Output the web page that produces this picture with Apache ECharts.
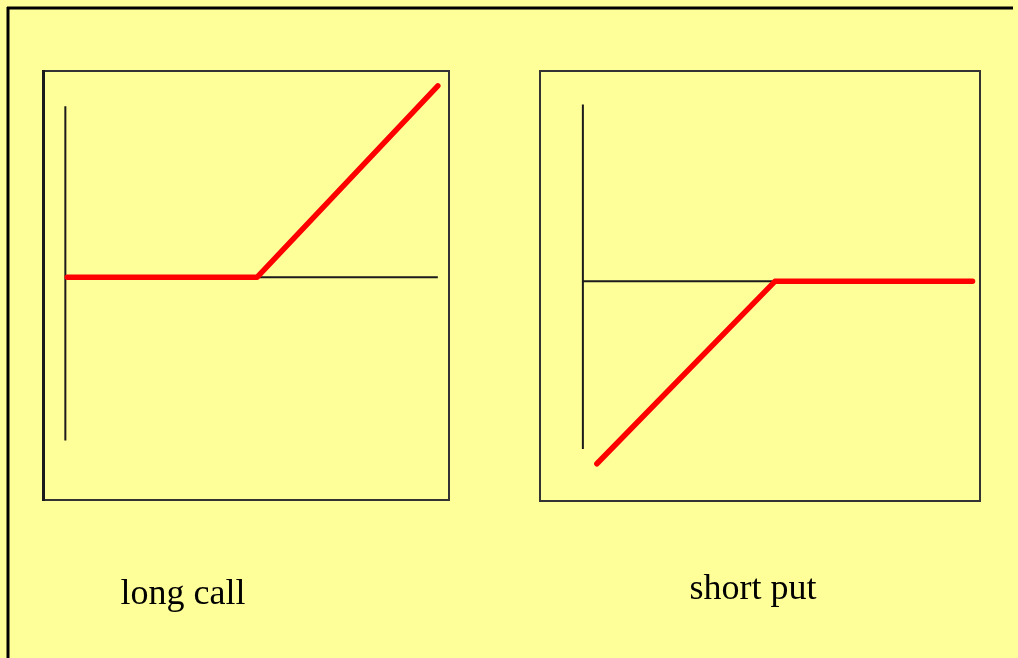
<!DOCTYPE html>
<html>
<head>
<meta charset="utf-8">
<script src="https://cdn.jsdelivr.net/npm/echarts@6/dist/echarts.min.js"></script>
<style>
  html, body { margin: 0; padding: 0; background: #ffff99; }
  #chart { width: 1018px; height: 658px; }
</style>
</head>
<body>
<div id="chart"></div>
<script>
// payoff diagrams
var chartTitles = ['long call', 'short put'];

var longCallPrice = [1, 103, 200];
var longCallPayoff = [0, 0, 103];
var shortPutPrice = [7.5, 103, 209];
var shortPutPayoff = [-98, 0, 0];

// drawn axes inside each box
var longCallAxisV = [[0, 92], [0, -88]];
var longCallAxisH = [[0, 0], [200, 0]];
var shortPutAxisV = [[0, 95], [0, -90]];
var shortPutAxisH = [[0, 0], [103, 0]];

function zip(xs, ys) {
    var out = [];
    for (var i = 0; i < xs.length; i++) {
        out.push([xs[i], ys[i]]);
    }
    return out;
}

function axisLine(data, idx) {
    return {
        type: 'line', data: data, xAxisIndex: idx, yAxisIndex: idx,
        showSymbol: false, silent: true,
        lineStyle: { color: '#1a1a1a', width: 2 }
    };
}

function payoffLine(data, idx) {
    return {
        type: 'line', data: data, xAxisIndex: idx, yAxisIndex: idx,
        showSymbol: false, silent: true, z: 3,
        lineStyle: { color: '#ff0000', width: 5.5, cap: 'round', join: 'round' }
    };
}

var myChart = echarts.init(document.getElementById('chart'));

var option = {
    backgroundColor: '#ffff99',
    animation: false,
    grid: [
        { left: 43, top: 71, width: 406, height: 429, show: true, borderColor: '#333', borderWidth: 2, backgroundColor: 'transparent' },
        { left: 540, top: 71, width: 440, height: 430, show: true, borderColor: '#333', borderWidth: 2, backgroundColor: 'transparent' }
    ],
    xAxis: [
        { type: 'value', gridIndex: 0, min: -12, max: 206, show: false },
        { type: 'value', gridIndex: 1, min: -23, max: 213, show: false }
    ],
    yAxis: [
        { type: 'value', gridIndex: 0, min: -120, max: 111, show: false },
        { type: 'value', gridIndex: 1, min: -118, max: 113, show: false }
    ],
    series: [
        axisLine(longCallAxisV, 0),
        axisLine(longCallAxisH, 0),
        payoffLine(zip(longCallPrice, longCallPayoff), 0),
        axisLine(shortPutAxisV, 1),
        axisLine(shortPutAxisH, 1),
        payoffLine(zip(shortPutPrice, shortPutPayoff), 1)
    ],
    graphic: [
        // outer frame, top and left edges
        { type: 'line', shape: { x1: 7, y1: 8, x2: 1013, y2: 8 }, style: { stroke: '#000', lineWidth: 3 } },
        { type: 'line', shape: { x1: 8, y1: 7, x2: 8, y2: 658 }, style: { stroke: '#000', lineWidth: 3 } },
        // heavier left edge of first box
        { type: 'line', shape: { x1: 43.5, y1: 70, x2: 43.5, y2: 501 }, style: { stroke: '#1a1a1a', lineWidth: 3 } },
        {
            type: 'text', x: 183, y: 595,
            style: { text: chartTitles[0], fill: '#000', font: '36px "Liberation Serif", serif', textAlign: 'center', textVerticalAlign: 'middle' }
        },
        {
            type: 'text', x: 753, y: 590,
            style: { text: chartTitles[1], fill: '#000', font: '36px "Liberation Serif", serif', textAlign: 'center', textVerticalAlign: 'middle' }
        }
    ]
};

myChart.setOption(option, true);
</script>
</body>
</html>
